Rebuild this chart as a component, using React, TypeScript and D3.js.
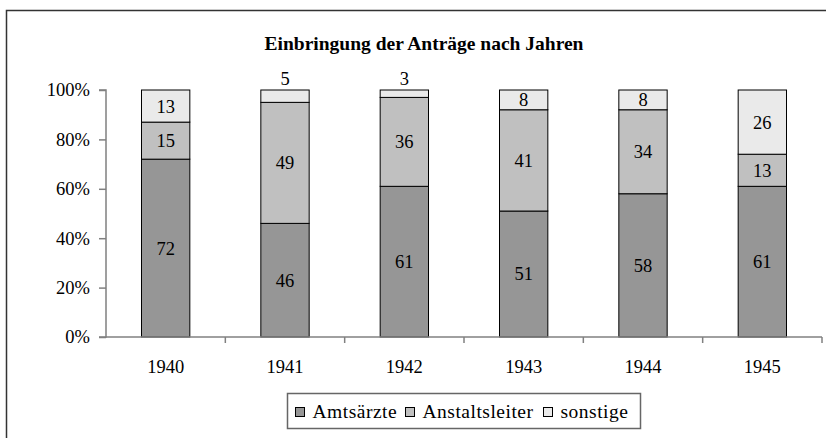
import React, { useEffect, useRef } from 'react';
import * as d3 from 'd3';

const years = ['1940', '1941', '1942', '1943', '1944', '1945'];
const amtsaerzte = [72, 46, 61, 51, 58, 61];
const anstaltsleiter = [15, 49, 36, 41, 34, 13];
const sonstige = [13, 5, 3, 8, 8, 26];
const seriesNames = ['Amtsärzte', 'Anstaltsleiter', 'sonstige'];
const seriesColors = ['#969696', '#c0c0c0', '#eaeaea'];
const yTicks = [0, 20, 40, 60, 80, 100];

const FONT = "'Liberation Serif', 'Times New Roman', serif";

const App = () => {
    const svgRef = useRef<SVGSVGElement>(null);

    useEffect(() => {
        const W = 826;
        const H = 438;
        const svg = d3.select(svgRef.current)
            .attr('width', W).attr('height', H)
            .style('font-family', FONT);
        svg.selectAll('*').remove();

        // outer frame (runs past the right and bottom edges)
        svg.append('rect')
            .attr('x', 6.5).attr('y', 10.5)
            .attr('width', 830).attr('height', 440)
            .attr('fill', 'white').attr('stroke', '#333').attr('stroke-width', 1.5);

        svg.append('text')
            .text('Einbringung der Anträge nach Jahren')
            .attr('x', 424).attr('y', 50)
            .attr('text-anchor', 'middle')
            .style('font-family', FONT).attr('font-weight', 'bold')
            .attr('font-size', '19.5px');

        const left = 106, right = 822, top = 90, bottom = 337;

        const x = d3.scaleBand().domain(years).range([left, right]).padding(0);
        const y = d3.scaleLinear().domain([0, 100]).range([bottom, top]);
        const barW = x.bandwidth() * 0.405;

        const rows = years.map((yr, i) => ({
            year: yr,
            Amtsärzte: amtsaerzte[i],
            Anstaltsleiter: anstaltsleiter[i],
            sonstige: sonstige[i],
        }));
        const stacked = d3.stack().keys(seriesNames)(rows as any);

        stacked.forEach((layer, li) => {
            layer.forEach((d: any) => {
                const cx = x(d.data.year)! + x.bandwidth() / 2;
                svg.append('rect')
                    .attr('x', cx - barW / 2)
                    .attr('y', y(d[1]))
                    .attr('width', barW)
                    .attr('height', y(d[0]) - y(d[1]))
                    .attr('fill', seriesColors[li])
                    .attr('stroke', '#000').attr('stroke-width', 1);
                const v = d[1] - d[0];
                const small = v < 7;
                svg.append('text')
                    .text(v)
                    .attr('x', cx)
                    .attr('y', small ? y(d[1]) - 5 : (y(d[0]) + y(d[1])) / 2)
                    .attr('dy', small ? 0 : '0.35em')
                    .attr('text-anchor', 'middle')
                    .style('font-family', FONT).attr('font-size', '18.5px');
            });
        });

        // y axis
        const yAxis = svg.append('g').attr('transform', `translate(${left},0)`)
            .call(d3.axisLeft(y).tickValues(yTicks).tickSize(7).tickFormat(d => `${d}%`));
        yAxis.attr('font-family', null);
        yAxis.select('.domain').attr('stroke', '#808080').attr('stroke-width', 1.5).attr('d', `M-7,${bottom}H0V${top}H-7`);
        yAxis.selectAll('.tick line').attr('stroke', '#808080').attr('stroke-width', 1.5);
        yAxis.selectAll('.tick text')
            .attr('x', -16).attr('fill', '#000')
            .style('font-family', FONT).attr('font-size', '18.5px');

        // x axis
        const xAxis = svg.append('g').attr('transform', `translate(0,${bottom})`)
            .call(d3.axisBottom(x).tickSize(0));
        xAxis.attr('font-family', null);
        xAxis.select('.domain').attr('stroke', '#808080').attr('stroke-width', 1.5).attr('d', `M${left},0H${right}`);
        xAxis.selectAll('.tick text')
            .attr('y', 23).attr('fill', '#000')
            .style('font-family', FONT).attr('font-size', '18.5px');
        // boundary ticks between categories
        xAxis.selectAll('.sep')
            .data(years.slice(1).concat(['end']))
            .enter().append('line')
            .attr('x1', (d, i) => left + x.step() * (i + 1))
            .attr('x2', (d, i) => left + x.step() * (i + 1))
            .attr('y1', 0).attr('y2', 6)
            .attr('stroke', '#808080').attr('stroke-width', 1.5);

        // legend
        const lg = svg.append('g');
        lg.append('rect')
            .attr('x', 287.5).attr('y', 393.5)
            .attr('width', 353).attr('height', 35)
            .attr('fill', 'white').attr('stroke', '#666').attr('stroke-width', 1.5);
        const legendX = [295.5, 405.5, 543.5];
        seriesNames.forEach((name, i) => {
            lg.append('rect')
                .attr('x', legendX[i]).attr('y', 407.5)
                .attr('width', 9).attr('height', 9)
                .attr('fill', seriesColors[i]).attr('stroke', '#000').attr('stroke-width', 1);
            lg.append('text')
                .text(name)
                .attr('x', legendX[i] + 17).attr('y', 418)
                .style('font-family', FONT).attr('font-size', '19.5px')
                .attr('letter-spacing', '0.5px');
        });
    }, []);

    return (
        <svg ref={svgRef} style={{ position: 'absolute', left: 0, top: 0, background: 'white' }}></svg>
    );
};

export default App;
